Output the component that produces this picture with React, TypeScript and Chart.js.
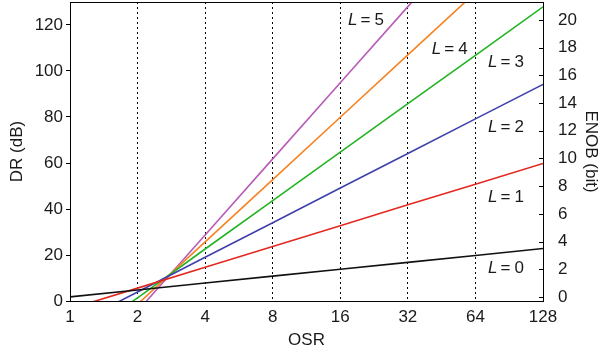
import React, { useEffect, useRef } from "react";
import { Chart, registerables } from "chart.js";

Chart.register(...registerables);

const OSR = [1, 2, 4, 8, 16, 32, 64, 128];
const OSR_TICKS = [1, 2, 4, 8, 16, 32, 64, 128];
const DR_TICKS = [0, 20, 40, 60, 80, 100, 120];
const ENOB_TICKS = [0, 2, 4, 6, 8, 10, 12, 14, 16, 18, 20];

const DR_L0 = [1.8, 4.8, 7.8, 10.8, 13.8, 16.8, 19.8, 22.8];
const DR_L1 = [-3.4, 5.6, 14.7, 23.7, 32.7, 41.8, 50.8, 59.8];
const DR_L2 = [-11.1, 3.9, 19.0, 34.0, 49.1, 64.1, 79.2, 94.2];
const DR_L3 = [-19.6, 1.4, 22.6, 43.6, 64.7, 85.8, 106.8, 127.9];
const DR_L4 = [-28.5, -1.4, 25.7, 52.8, 79.9, 107.0, 134.1, 161.2];
const DR_L5 = [-37.5, -4.4, 28.7, 61.8, 94.9, 128.0, 161.1, 194.2];

const SERIES = [
  { name: "L=0", values: DR_L0, color: "#111111" },
  { name: "L=1", values: DR_L1, color: "#e3291f" },
  { name: "L=2", values: DR_L2, color: "#4040aa" },
  { name: "L=3", values: DR_L3, color: "#22b422" },
  { name: "L=4", values: DR_L4, color: "#f7821f" },
  { name: "L=5", values: DR_L5, color: "#b95cb9" },
];

// label anchors in data coordinates (OSR, DR)
const LABEL_ORDER = ["0", "1", "2", "3", "4", "5"];
const LABEL_OSR = [72.8, 72.8, 72.8, 72.8, 40.9, 17.3];
const LABEL_DR = [12.3, 43.2, 73.6, 101.7, 107.4, 120];

const DR_MIN = 0;
const DR_MAX = 130;
const toEnob = (dr: number) => (dr - 1.76) / 6.02;

const FONT = "'Liberation Sans', Arial, Helvetica, sans-serif";
const TEXT = "#1a1a1a";

export default function App() {
  const ref = useRef<HTMLCanvasElement | null>(null);

  useEffect(() => {
    document.body.style.margin = "0";
    const canvas = ref.current;
    if (!canvas) return;

    const framePlugin = {
      id: "frame",
      afterDatasetsDraw(chart: any) {
        const { ctx, chartArea } = chart;
        const { left, right, top, bottom } = chartArea;
        ctx.save();
        ctx.strokeStyle = "#000";
        ctx.lineWidth = 1;
        ctx.strokeRect(Math.round(left) + 0.5, Math.round(top) + 0.5, Math.round(right - left), Math.round(bottom - top));
        const y2 = chart.scales.y2;
        ENOB_TICKS.forEach((v) => {
          const py = Math.round(y2.getPixelForValue(v)) + 0.5;
          ctx.beginPath();
          ctx.moveTo(right - 4, py);
          ctx.lineTo(right, py);
          ctx.stroke();
        });
        const xs = chart.scales.x;
        const ys = chart.scales.y;
        ctx.fillStyle = TEXT;
        ctx.textBaseline = "alphabetic";
        ctx.textAlign = "left";
        LABEL_ORDER.forEach((d, i) => {
          const px = xs.getPixelForValue(LABEL_OSR[i]);
          const py = ys.getPixelForValue(LABEL_DR[i]);
          ctx.font = `italic 17px ${FONT}`;
          ctx.fillText("L", px, py);
          ctx.font = `17px ${FONT}`;
          ctx.fillText("=", px + 12.5, py);
          ctx.fillText(d, px + 26.5, py);
        });
        ctx.restore();
      },
    };

    const zeroPad = (s: any) => {
      s.paddingTop = 0;
      s.paddingBottom = 0;
      s.paddingLeft = 0;
      s.paddingRight = 0;
    };

    const chart = new Chart(canvas, {
      type: "line",
      data: {
        datasets: SERIES.map((s) => ({
          label: s.name,
          data: OSR.map((o, i) => ({ x: o, y: s.values[i] })),
          borderColor: s.color,
          backgroundColor: s.color,
          borderWidth: 1.6,
          pointRadius: 0,
          tension: 0,
          yAxisID: "y",
        })),
      },
      options: {
        responsive: false,
        animation: false,
        layout: { padding: { top: 2, left: 0, right: 0, bottom: 0 } },
        plugins: { legend: { display: false }, tooltip: { enabled: false } },
        scales: {
          x: {
            type: "logarithmic",
            min: 1,
            max: 128,
            afterBuildTicks: (s: any) => {
              s.ticks = OSR_TICKS.map((v) => ({ value: v }));
            },
            afterFit: (s: any) => {
              s.height = 50;
              zeroPad(s);
            },
            ticks: {
              autoSkip: false,
              maxRotation: 0,
              padding: 6,
              color: TEXT,
              font: { family: FONT, size: 17 },
              callback: (v: any) => String(v),
            },
            grid: {
              drawTicks: false,
              color: (c: any) =>
                c.index === 0 || c.index === OSR_TICKS.length - 1 ? "rgba(0,0,0,0)" : "#000",
              lineWidth: 1,
            },
            border: { display: true, color: "#000", dash: [2, 3] as any },
            title: {
              display: true,
              text: "OSR",
              color: TEXT,
              font: { family: FONT, size: 17 },
              padding: { top: 6, bottom: 0 },
            },
          },
          y: {
            type: "linear",
            position: "left",
            min: DR_MIN,
            max: DR_MAX,
            afterBuildTicks: (s: any) => {
              s.ticks = DR_TICKS.map((v) => ({ value: v }));
            },
            afterFit: (s: any) => {
              s.width = 70;
              zeroPad(s);
            },
            ticks: {
              padding: 3,
              color: TEXT,
              font: { family: FONT, size: 17 },
            },
            grid: { drawOnChartArea: false, drawTicks: true, tickLength: 4, color: "#000" },
            border: { display: true, color: "#000" },
            title: {
              display: true,
              text: "DR (dB)",
              color: TEXT,
              font: { family: FONT, size: 17 },
              padding: { top: 7, bottom: 0 },
            },
          },
          y2: {
            type: "linear",
            position: "right",
            min: toEnob(DR_MIN),
            max: toEnob(DR_MAX),
            afterBuildTicks: (s: any) => {
              s.ticks = ENOB_TICKS.map((v) => ({ value: v }));
            },
            afterFit: (s: any) => {
              s.width = 61;
              zeroPad(s);
            },
            ticks: {
              padding: 7,
              color: TEXT,
              font: { family: FONT, size: 17 },
            },
            grid: { display: false },
            border: { display: true, color: "#000" },
            title: {
              display: true,
              text: "ENOB (bit)",
              color: TEXT,
              font: { family: FONT, size: 17 },
              padding: { top: 3, bottom: 0 },
            },
          },
        },
      },
      plugins: [framePlugin],
    } as any);

    return () => chart.destroy();
  }, []);

  return (
    <div style={{ position: "absolute", left: 0, top: 0, width: 604, height: 351 }}>
      <canvas ref={ref} width={604} height={351} />
    </div>
  );
}
